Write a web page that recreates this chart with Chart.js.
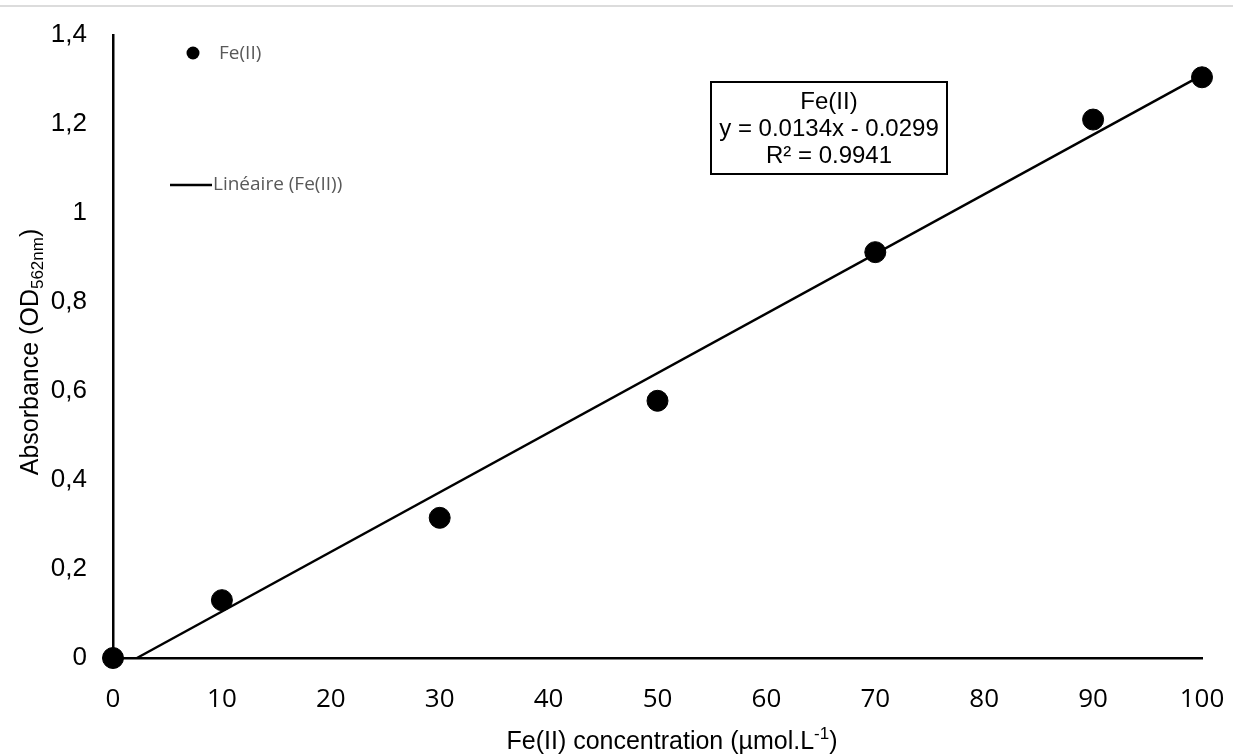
<!DOCTYPE html>
<html>
<head>
<meta charset="utf-8">
<script src="https://cdn.jsdelivr.net/npm/chart.js@4"></script>
<style>
  body { margin: 0; background: #fff; }
  #topline { position: absolute; left: 0; top: 5px; width: 1233px; height: 2px; background: #dcdcdc; }
</style>
</head>
<body>
<div id="topline"></div>
<canvas id="fechart" width="1233" height="754"></canvas>
<script>
// measured points
const concentrations = [0, 10, 30, 50, 70, 90, 100];
const absorbances = [0, 0.13, 0.315, 0.578, 0.912, 1.21, 1.305];

// trendline ends
const trendX = [2.2, 100];
const trendY = [0, 1.31];

const xTicks = [0, 10, 20, 30, 40, 50, 60, 70, 80, 90, 100];
const yTicks = [0, 0.2, 0.4, 0.6, 0.8, 1, 1.2, 1.4];

const eqLines = ['Fe(II)', 'y = 0.0134x - 0.0299', 'R\u00B2 = 0.9941'];

const points = concentrations.map((c, i) => ({x: c, y: absorbances[i]}));
const trend = trendX.map((c, i) => ({x: c, y: trendY[i]}));

// titles with sub/superscripts, legend and equation box
const extras = {
  id: 'extras',
  afterDraw(chart) {
    const ctx = chart.ctx;
    ctx.save();
    ctx.fillStyle = '#000';
    ctx.textBaseline = 'alphabetic';

    // x title
    const big = '25px "Liberation Sans", Arial, sans-serif';
    const small = '17px "Liberation Sans", Arial, sans-serif';
    ctx.font = big;
    const xa = 'Fe(II) concentration (\u00B5mol.L';
    const xc = ')';
    const wa = ctx.measureText(xa).width;
    const wc = ctx.measureText(xc).width;
    ctx.font = small;
    const wb = ctx.measureText('-1').width;
    let x0 = 672 - (wa + wb + wc) / 2;
    const yb = 749;
    ctx.font = big;
    ctx.textAlign = 'left';
    ctx.fillText(xa, x0, yb);
    ctx.font = small;
    ctx.fillText('-1', x0 + wa, yb - 10);
    ctx.font = big;
    ctx.fillText(xc, x0 + wa + wb, yb);

    // y title
    ctx.save();
    ctx.translate(38, 352);
    ctx.rotate(-Math.PI / 2);
    const ya = 'Absorbance (OD';
    const yc = ')';
    ctx.font = big;
    const va = ctx.measureText(ya).width;
    const vc = ctx.measureText(yc).width;
    ctx.font = small;
    const vb = ctx.measureText('562nm').width;
    let s0 = -(va + vb + vc) / 2;
    ctx.font = big;
    ctx.fillText(ya, s0, 0);
    ctx.font = small;
    ctx.fillText('562nm', s0 + va, 5);
    ctx.font = big;
    ctx.fillText(yc, s0 + va + vb, 0);
    ctx.restore();

    // legend
    ctx.fillStyle = '#000';
    ctx.beginPath();
    ctx.arc(193, 53, 6.5, 0, Math.PI * 2);
    ctx.fill();
    ctx.strokeStyle = '#000';
    ctx.lineWidth = 2.5;
    ctx.beginPath();
    ctx.moveTo(170, 185);
    ctx.lineTo(212, 185);
    ctx.stroke();
    ctx.fillStyle = '#595959';
    ctx.font = '19px "Open Sans", sans-serif';
    ctx.textBaseline = 'middle';
    ctx.fillText('Fe(II)', 219, 54);
    ctx.fillText('Lin\u00E9aire (Fe(II))', 213, 185);

    // equation box
    ctx.fillStyle = '#fff';
    ctx.fillRect(711, 82, 236, 92);
    ctx.strokeStyle = '#000';
    ctx.lineWidth = 2;
    ctx.strokeRect(711, 82, 236, 92);
    ctx.fillStyle = '#000';
    ctx.font = '24px "Liberation Sans", Arial, sans-serif';
    ctx.textAlign = 'center';
    eqLines.forEach((t, i) => ctx.fillText(t, 829, 102 + i * 27));
    ctx.restore();
  }
};

const config = {
  type: 'scatter',
  data: {
    datasets: [{
      label: 'Fe(II)',
      data: points,
      backgroundColor: '#000',
      borderColor: '#000',
      pointRadius: 10.5,
      pointHoverRadius: 10.5,
      clip: false,
      order: 1
    }, {
      type: 'line',
      label: 'Lin\u00E9aire (Fe(II))',
      data: trend,
      borderColor: '#000',
      borderWidth: 2.5,
      pointRadius: 0,
      fill: false,
      clip: false,
      order: 2
    }]
  },
  options: {
    responsive: false,
    animation: false,
    layout: { padding: { left: 0, right: 31, top: 35, bottom: 0 } },
    plugins: { legend: { display: false }, tooltip: { enabled: false } },
    scales: {
      x: {
        type: 'linear',
        min: 0,
        max: 100,
        afterBuildTicks: (scale) => { scale.ticks = xTicks.map(v => ({value: v})); },
        afterFit: (scale) => {
          scale.height = 96;
          scale.paddingLeft = 0;
          scale.paddingRight = 0;
        },
        grid: { display: false },
        border: { display: true, color: '#000', width: 2.5 },
        ticks: {
          color: '#000',
          padding: 18,
          maxRotation: 0,
          font: { family: '"Open Sans", sans-serif', size: 26 }
        }
      },
      y: {
        min: 0,
        max: 1.4,
        afterBuildTicks: (scale) => { scale.ticks = yTicks.map(v => ({value: v})); },
        afterFit: (scale) => {
          scale.width = 113;
          scale.paddingTop = 0;
          scale.paddingBottom = 0;
        },
        grid: { display: false },
        border: { display: true, color: '#000', width: 2.5 },
        ticks: {
          color: '#000',
          padding: 18,
          font: { family: '"Liberation Sans", Arial, sans-serif', size: 26 },
          callback: (v) => String(Math.round(v * 10) / 10).replace('.', ',')
        }
      }
    }
  },
  plugins: [extras]
};

const chart = new Chart(document.getElementById('fechart'), config);
</script>
</body>
</html>
